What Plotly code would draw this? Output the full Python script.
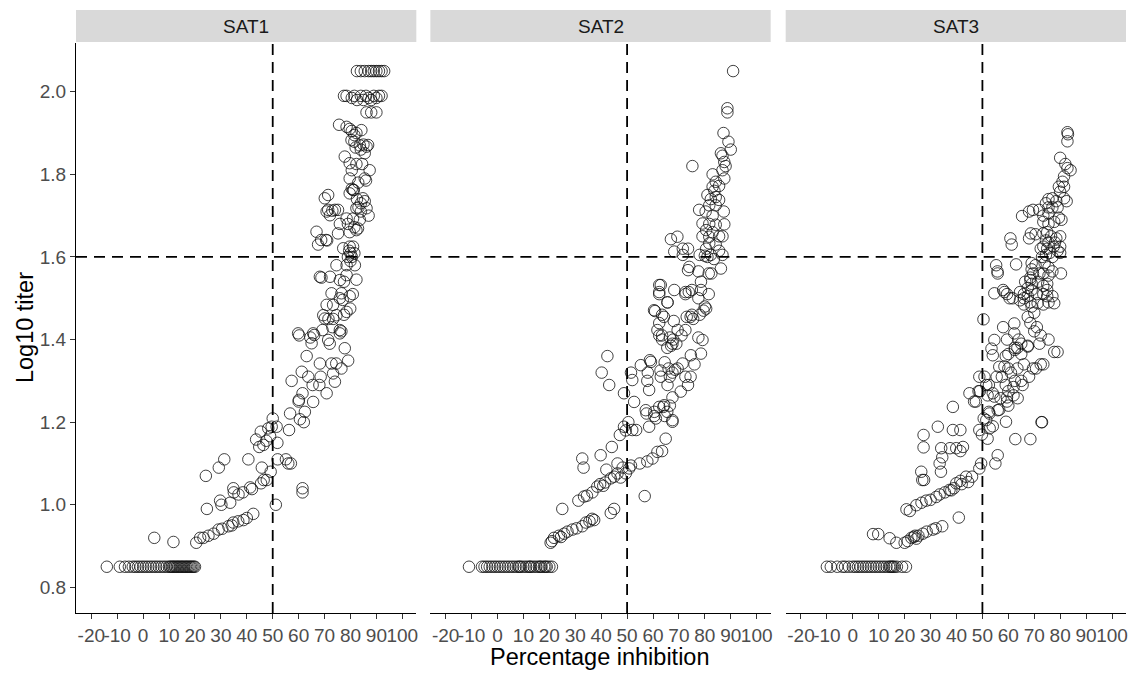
import plotly.graph_objects as go

# Percentage inhibition vs log10 titer, one panel per serotype
panels = ["SAT1", "SAT2", "SAT3"]
x_ticks = [-20, -10, 0, 10, 20, 30, 40, 50, 60, 70, 80, 90, 100]
y_ticks = [0.8, 1.0, 1.2, 1.4, 1.6, 1.8, 2.0]
pi_cutoff = 50
titer_cutoff = 1.6

sat1_baseline_pi = [-14, -9, -7, -5.5, -4, -3, -2, -1, 0, 1, 2, 3, 4, 5, 6, 7, 8, 9, 10,
                    10.5, 11, 11.5, 12, 12.5, 13, 13.5, 14, 14.5, 15, 15.5, 16, 16.5, 17,
                    17.5, 18, 18.5, 19, 19.5, 20]
sat1_points = [
    (4.3, 0.92), (11.7, 0.91),
    (20.5, 0.908), (22.0, 0.92), (23.3, 0.92), (25.2, 0.925), (27.2, 0.93), (29.1, 0.94),
    (30.5, 0.942), (32.9, 0.948), (34.2, 0.95), (34.8, 0.957), (36.7, 0.96), (38.7, 0.963),
    (40.0, 0.968), (42.5, 0.978),
    (24.6, 0.99), (24.2, 1.07), (29.2, 1.09), (31.3, 1.11), (29.7, 1.01), (30.2, 1.0),
    (33.6, 1.005), (34.8, 1.04), (35.0, 1.03), (36.8, 1.025), (38.5, 1.03), (41.3, 1.042),
    (42.0, 1.038), (40.6, 1.11),
    (45.5, 1.052), (46.5, 1.06), (47.7, 1.06), (49.2, 1.08), (45.8, 1.09),
    (43.6, 1.158), (44.8, 1.14), (45.4, 1.177), (46.4, 1.145), (47.5, 1.155), (49.0, 1.166),
    (49.6, 1.189), (50.0, 1.209), (51.5, 1.189), (51.8, 1.15), (48.3, 1.185),
    (51.2, 1.0), (51.9, 1.11), (55.1, 1.11), (56.0, 1.10), (57.0, 1.10), (61.5, 1.04), (61.5, 1.03),
    (56.3, 1.181), (56.7, 1.221), (57.3, 1.30), (60.1, 1.254), (60.5, 1.207), (61.5, 1.27),
    (61.2, 1.322), (62.4, 1.225), (63.1, 1.36), (63.7, 1.31), (65.4, 1.29), (65.6, 1.249),
    (65.0, 1.391), (66.0, 1.411), (68.2, 1.342), (68.5, 1.31), (68.0, 1.29), (70.8, 1.27),
    (71.4, 1.399), (72.0, 1.39), (72.7, 1.342), (73.3, 1.318), (74.0, 1.298), (74.5, 1.342),
    (76.5, 1.33), (77.8, 1.379), (79.1, 1.349), (75.9, 1.415), (60.2, 1.41), (64.5, 1.405),
    (62.0, 1.2), (60.0, 1.25),
    (82.5, 2.05), (84, 2.05), (85.5, 2.05), (87, 2.05), (88, 2.05), (89, 2.05), (90, 2.05),
    (91, 2.05), (92, 2.05), (93, 2.05),
    (77.5, 1.99), (78.5, 1.99), (80.5, 1.985), (81.5, 1.99), (82.5, 1.98), (84, 1.99),
    (85, 1.98), (86, 1.99), (87, 1.985), (88, 1.98), (89, 1.99), (90, 1.985), (91, 1.99), (92, 1.99),
    (86.2, 1.95), (88, 1.95), (90, 1.95),
    (75.6, 1.92), (78.5, 1.915), (79.7, 1.91), (80.5, 1.905), (82.3, 1.90), (84.2, 1.907), (81.5, 1.895),
    (80.4, 1.883), (81.5, 1.879), (83.6, 1.87), (85.0, 1.872), (86.8, 1.871), (82.0, 1.865),
    (85.5, 1.851), (86.2, 1.867), (84.0, 1.86),
    (77.8, 1.843), (79.7, 1.827), (82.3, 1.825), (84.5, 1.825), (87.4, 1.81), (80.5, 1.81),
    (79.7, 1.79), (85.5, 1.79), (83.0, 1.78), (86.0, 1.785),
    (81.0, 1.762), (80.5, 1.765), (79.7, 1.754), (81.3, 1.762),
    (70.1, 1.742), (71.4, 1.75), (84.8, 1.742), (85.5, 1.735), (82.5, 1.74), (84.0, 1.73),
    (83.1, 1.72), (86.2, 1.718), (82.3, 1.718), (84.0, 1.71),
    (71.4, 1.714), (73.0, 1.712), (74.0, 1.714), (75.2, 1.714), (72.1, 1.701), (70.8, 1.71),
    (78.5, 1.693), (81.0, 1.693), (83.6, 1.69), (79.0, 1.68), (82.9, 1.669), (81.5, 1.672),
    (75.9, 1.68), (79.7, 1.66), (82.3, 1.665), (87.0, 1.70),
    (66.9, 1.661), (68.7, 1.641), (70.6, 1.641), (67.5, 1.63), (71.0, 1.64), (75.2, 1.657),
    (77.2, 1.621), (79.7, 1.625), (81.0, 1.625), (80.0, 1.609), (81.5, 1.609), (79.0, 1.60),
    (80.5, 1.60), (80.0, 1.59), (81.7, 1.58), (78.5, 1.58), (74.6, 1.58), (79.5, 1.615),
    (68.2, 1.552), (68.8, 1.55), (72.1, 1.552), (75.9, 1.544), (78.5, 1.556), (82.3, 1.545), (77.5, 1.54),
    (72.7, 1.512), (76.5, 1.512), (80.9, 1.51), (75.9, 1.5), (79.7, 1.505), (77.0, 1.496),
    (70.8, 1.484), (73.3, 1.484), (79.9, 1.475), (78.5, 1.467), (77.5, 1.46),
    (74.6, 1.459), (69.5, 1.459), (71.5, 1.45), (70.1, 1.451), (73.3, 1.45),
    (69.2, 1.423), (75.9, 1.423), (73.0, 1.43), (65.6, 1.415), (59.8, 1.415), (76.5, 1.42),
]

sat2_baseline_pi = [-11, -6, -5, -4, -3, -2, -1, 0, 1, 2, 3, 4, 5, 6, 7, 8, 8.5, 9, 10, 11,
                    12, 12.5, 13, 14, 15, 16, 16.5, 17, 18, 18.5, 19, 20, 21]
sat2_points = [
    (20.5, 0.908), (21.0, 0.912), (21.8, 0.92), (23.7, 0.925), (24.5, 0.922), (25.7, 0.93),
    (27.0, 0.935), (28.9, 0.94), (30.5, 0.943), (32.7, 0.948), (34.1, 0.957), (35.5, 0.96),
    (37.3, 0.963), (36.5, 0.966),
    (25.0, 0.99), (31.2, 1.01), (33.4, 1.02), (34.5, 1.022), (36.6, 1.03), (38.5, 1.044),
    (39.6, 1.05), (40.8, 1.046), (41.5, 1.054), (43.7, 1.064), (45.0, 1.068), (46.3, 1.076),
    (47.5, 1.066), (49.5, 1.076),
    (43.7, 0.98), (45.0, 0.99), (56.8, 1.021),
    (32.7, 1.112), (33.2, 1.09), (39.8, 1.12), (44.1, 1.14), (46.3, 1.10), (48.3, 1.09),
    (50.8, 1.088), (42.0, 1.085), (51.5, 1.095),
    (47.2, 1.169), (48.8, 1.189), (49.5, 1.18), (52.0, 1.181), (53.5, 1.181), (50.5, 1.2),
    (54.9, 1.10), (57.8, 1.105), (59.8, 1.112), (61.7, 1.128), (63.5, 1.13), (64.9, 1.16),
    (48.8, 1.27), (52.0, 1.302), (51.5, 1.32), (52.7, 1.249),
    (58.5, 1.189), (61.1, 1.209), (57.5, 1.221), (57.2, 1.229), (62.4, 1.237), (64.0, 1.237),
    (65.5, 1.225), (66.5, 1.24), (67.5, 1.201), (64.5, 1.215), (60.5, 1.225),
    (55.3, 1.338), (58.0, 1.32), (59.2, 1.346), (58.5, 1.278), (62.9, 1.325), (64.5, 1.345),
    (65.6, 1.29), (66.5, 1.31), (67.5, 1.32), (69.5, 1.33), (71.4, 1.342), (72.5, 1.31),
    (73.5, 1.29), (74.5, 1.31), (70.7, 1.274), (67.5, 1.26), (74.6, 1.362), (76.0, 1.34),
    (78.5, 1.366), (79.1, 1.399), (63.5, 1.41), (67.5, 1.39), (65.5, 1.38), (71.0, 1.41),
    (42.4, 1.36), (40.2, 1.32), (43.1, 1.29),
    (62.4, 1.532), (62.4, 1.51), (65.6, 1.49), (68.2, 1.52), (72.5, 1.51), (75.0, 1.52),
    (78.5, 1.54), (81.5, 1.51), (82.5, 1.56), (86.2, 1.572), (77.5, 1.50),
    (60.4, 1.471), (64.2, 1.455), (61.7, 1.423), (62.4, 1.41), (63.5, 1.40), (66.5, 1.405),
    (67.8, 1.40), (69.0, 1.39), (67.0, 1.385), (69.5, 1.423), (72.5, 1.423), (74.5, 1.455),
    (75.5, 1.45), (79.5, 1.47), (80.5, 1.475), (77.5, 1.405),
    (58.8, 1.35), (57.8, 1.30), (63.0, 1.31), (66.0, 1.33), (68.5, 1.327), (60.5, 1.215),
    (64.3, 1.241), (67.5, 1.205),
    (90.9, 2.05), (88.7, 1.96), (88.7, 1.95), (87.2, 1.90), (89.1, 1.879), (90.0, 1.86),
    (86.2, 1.851), (86.8, 1.845), (87.5, 1.83), (88.0, 1.82), (86.8, 1.81), (87.5, 1.79),
    (83.0, 1.80), (84.2, 1.782), (85.5, 1.772), (83.0, 1.77), (83.7, 1.76), (81.0, 1.75),
    (84.2, 1.745), (82.3, 1.74), (85.5, 1.738), (81.7, 1.725), (84.2, 1.725), (87.3, 1.71),
    (77.8, 1.714), (80.3, 1.71), (83.0, 1.70), (79.1, 1.681), (81.7, 1.68), (84.2, 1.678),
    (87.5, 1.679), (80.5, 1.665), (83.0, 1.66), (81.7, 1.649), (85.5, 1.65), (86.8, 1.65),
    (79.1, 1.65), (81.7, 1.633), (84.2, 1.63), (80.5, 1.62), (85.5, 1.615), (82.3, 1.605),
    (81.0, 1.60), (78.0, 1.605), (80.0, 1.603), (86.8, 1.605), (83.5, 1.595),
    (75.2, 1.82), (66.9, 1.643), (69.4, 1.649), (68.2, 1.613), (71.5, 1.62), (73.5, 1.62),
    (71.5, 1.605), (74.0, 1.576), (73.5, 1.568), (77.5, 1.565), (81.5, 1.56),
    (63.0, 1.532), (62.4, 1.515), (72.5, 1.515), (73.8, 1.515), (78.5, 1.52), (65.6, 1.49),
    (60.8, 1.469), (63.5, 1.46), (62.4, 1.44), (68.0, 1.445), (73.0, 1.455), (75.0, 1.46),
    (78.0, 1.46), (80.0, 1.48),
]

sat3_baseline_pi = [-10, -8.5, -6, -4, -3, -1.5, 0, 1, 2, 3, 4, 5, 6, 7, 8, 9, 10, 11, 12,
                    13, 14, 14.5, 15, 15.5, 16, 17, 19, 20.5]
sat3_points = [
    (7.8, 0.929), (9.8, 0.929), (14.2, 0.919), (16.8, 0.908), (20.0, 0.908), (21.2, 0.912),
    (22.6, 0.92), (23.5, 0.922), (24.0, 0.925), (25.3, 0.925), (27.0, 0.93), (28.5, 0.935),
    (30.9, 0.94), (32.0, 0.943), (34.5, 0.948), (24.5, 0.918),
    (40.9, 0.969),
    (20.7, 0.989), (22.0, 0.985), (24.5, 0.999), (26.5, 1.005), (28.3, 1.01), (30.0, 1.012),
    (32.2, 1.019), (33.5, 1.025), (35.5, 1.03), (37.3, 1.036), (39.0, 1.04), (39.9, 1.052),
    (41.5, 1.058), (43.7, 1.068), (44.5, 1.055), (46.0, 1.068), (48.8, 1.088), (49.5, 1.10),
    (42.0, 1.05), (38.0, 1.035),
    (26.4, 1.08), (26.8, 1.06), (27.5, 1.06),
    (27.3, 1.139), (27.3, 1.169), (32.8, 1.189), (34.1, 1.137), (33.5, 1.10), (34.0, 1.08),
    (34.5, 1.115), (38.6, 1.181), (41.5, 1.181), (37.5, 1.137), (39.9, 1.137), (42.5, 1.14),
    (41.5, 1.13), (38.6, 1.237),
    (48.8, 1.181), (49.8, 1.17), (52.0, 1.16), (52.8, 1.185), (50.5, 1.209), (52.5, 1.225),
    (55.9, 1.229), (55.9, 1.12), (55.0, 1.10),
    (59.1, 1.201), (62.7, 1.159), (68.5, 1.159), (73.0, 1.2),
    (45.0, 1.27), (46.8, 1.25), (48.5, 1.275), (50.8, 1.31), (52.5, 1.29), (54.6, 1.262),
    (57.0, 1.258), (59.5, 1.25), (63.6, 1.258), (60.0, 1.275), (62.5, 1.30), (65.5, 1.29),
    (68.0, 1.31), (70.7, 1.33), (73.5, 1.34), (77.7, 1.37), (79.0, 1.37), (60.0, 1.33),
    (58.5, 1.335), (54.0, 1.362), (60.0, 1.365), (62.5, 1.38), (65.0, 1.365), (67.5, 1.385),
    (72.0, 1.39), (70.0, 1.42),
    (50.4, 1.449), (55.8, 1.565), (58.5, 1.515), (59.5, 1.51), (60.5, 1.50), (64.5, 1.515),
    (67.5, 1.525), (68.5, 1.55), (66.0, 1.50), (68.5, 1.49), (71.0, 1.51), (73.5, 1.51),
    (75.5, 1.49), (75.0, 1.535), (72.0, 1.56), (69.0, 1.57),
    (62.3, 1.439), (58.0, 1.43), (59.5, 1.40), (62.3, 1.415), (64.0, 1.40), (65.0, 1.39),
    (67.5, 1.383), (63.5, 1.38), (62.5, 1.375), (54.6, 1.399), (68.5, 1.44), (71.0, 1.43),
    (72.5, 1.41), (75.5, 1.40), (67.5, 1.455), (70.0, 1.465),
    (53.5, 1.378), (56.5, 1.334), (59.0, 1.36), (61.0, 1.32), (63.5, 1.33), (66.0, 1.34),
    (69.5, 1.33), (72.5, 1.34), (57.5, 1.31), (55.5, 1.31), (48.8, 1.31), (51.5, 1.29),
    (59.0, 1.29), (62.0, 1.285), (65.0, 1.30),
    (47.5, 1.25), (49.0, 1.275), (52.0, 1.265), (54.0, 1.27), (59.5, 1.26), (60.0, 1.24),
    (62.0, 1.265), (56.5, 1.23), (52.7, 1.221), (51.5, 1.205), (54.0, 1.19), (72.8, 1.2),
    (82.8, 1.902), (83.0, 1.897), (82.8, 1.88), (80.0, 1.84), (82.0, 1.825), (82.8, 1.815),
    (84.0, 1.81), (81.5, 1.795), (80.9, 1.782), (79.5, 1.77), (81.5, 1.77), (80.0, 1.758),
    (77.0, 1.742), (75.5, 1.74), (78.5, 1.735), (81.5, 1.742), (82.5, 1.735), (74.5, 1.73),
    (75.5, 1.72), (77.0, 1.72), (79.0, 1.72), (71.9, 1.714), (69.5, 1.714), (68.0, 1.71),
    (73.5, 1.70), (75.5, 1.705), (79.5, 1.695), (77.7, 1.685), (73.5, 1.685), (75.5, 1.68),
    (80.5, 1.69), (65.3, 1.699),
    (68.7, 1.657), (68.0, 1.645), (70.5, 1.655), (73.5, 1.657), (75.0, 1.66), (76.5, 1.65),
    (78.5, 1.645), (80.0, 1.65), (74.5, 1.64), (75.5, 1.635), (78.0, 1.635), (80.0, 1.625),
    (73.5, 1.625), (72.5, 1.62), (75.0, 1.62), (77.5, 1.625), (79.0, 1.615), (76.0, 1.61),
    (74.5, 1.605), (80.0, 1.61), (73.0, 1.60), (77.0, 1.60),
    (60.8, 1.645), (61.3, 1.63),
    (55.3, 1.58), (55.9, 1.56), (63.0, 1.582), (69.0, 1.585), (70.5, 1.58), (74.0, 1.585),
    (75.5, 1.575), (77.0, 1.565), (80.3, 1.56), (69.5, 1.56), (73.5, 1.56), (75.5, 1.555),
    (68.5, 1.544), (69.0, 1.535), (66.5, 1.54), (71.5, 1.54), (73.5, 1.53), (75.0, 1.52),
    (69.0, 1.52),
    (54.6, 1.512), (58.0, 1.52), (61.7, 1.50), (64.5, 1.495), (66.0, 1.51), (67.5, 1.505),
    (71.3, 1.488), (73.5, 1.485), (75.0, 1.505), (77.0, 1.505), (77.7, 1.488), (66.0, 1.485),
    (69.0, 1.48),
]

baseline_titer = 0.85

panel_data = {
    "SAT1": (sat1_baseline_pi, sat1_points),
    "SAT2": (sat2_baseline_pi, sat2_points),
    "SAT3": (sat3_baseline_pi, sat3_points),
}

FONT = "Liberation Sans, Arial, sans-serif"
TICK_COLOR = "#4d4d4d"
TICK_SIZE = 19
TITLE_SIZE = 23.5
x_range = [-25.9, 105.4]
y_range = [0.738, 2.118]
domains = [[0.0, 0.3241], [0.3375, 0.6616], [0.6759, 1.0]]

fig = go.Figure()

for i, name in enumerate(panels):
    base_pi, pts = panel_data[name]
    xs = list(base_pi) + [p[0] for p in pts]
    ys = [baseline_titer] * len(base_pi) + [p[1] for p in pts]
    suffix = "" if i == 0 else str(i + 1)
    fig.add_trace(go.Scatter(
        x=xs, y=ys, mode="markers", showlegend=False,
        xaxis="x" + suffix, yaxis="y" + suffix,
        marker=dict(symbol="circle-open", size=11.5, color="#111111",
                    line=dict(width=0.8)),
        hoverinfo="x+y",
    ))

    xa = dict(domain=domains[i], range=x_range, tickmode="array", tickvals=x_ticks,
              ticktext=[str(t) for t in x_ticks], tickangle=0, showgrid=False, zeroline=False,
              showline=True, linecolor="black", linewidth=1.1,
              ticks="outside", ticklen=5, tickwidth=1.1, tickcolor="#333333",
              tickfont=dict(family=FONT, size=TICK_SIZE, color=TICK_COLOR),
              anchor="y" + suffix, fixedrange=True)
    ya = dict(domain=[0, 1], range=y_range, showgrid=False, zeroline=False,
              anchor="x" + suffix, fixedrange=True)
    if i == 0:
        ya.update(tickmode="array", tickvals=y_ticks,
                  ticktext=["%.1f" % v for v in y_ticks],
                  showline=True, linecolor="black", linewidth=1.1,
                  ticks="outside", ticklen=5, tickwidth=1.1, tickcolor="#333333",
                  tickfont=dict(family=FONT, size=TICK_SIZE, color=TICK_COLOR))
    else:
        ya.update(showticklabels=False, showline=False, ticks="", matches="y")
    fig.layout["xaxis" + suffix] = xa
    fig.layout["yaxis" + suffix] = ya

    xref = "x" + suffix
    yref = "y" + suffix
    # facet strip
    fig.add_shape(type="rect", xref=xref + " domain", yref="paper",
                  x0=0, x1=1, y0=1.0018, y1=1.0579,
                  fillcolor="#d9d9d9", line=dict(width=0), layer="below")
    fig.add_annotation(text=name, xref=xref + " domain", yref="paper",
                       x=0.5, y=1.0298, showarrow=False, xanchor="center", yanchor="middle",
                       font=dict(family=FONT, size=TICK_SIZE, color="#1a1a1a"))
    # threshold lines
    fig.add_shape(type="line", xref=xref, yref=yref + " domain",
                  x0=pi_cutoff, x1=pi_cutoff, y0=0, y1=1,
                  line=dict(color="black", width=1.8, dash="11px,7px"))
    fig.add_shape(type="line", xref=xref + " domain", yref=yref,
                  x0=0, x1=1, y0=titer_cutoff, y1=titer_cutoff,
                  line=dict(color="black", width=1.8, dash="11px,7px"))

fig.add_annotation(text="Percentage inhibition", xref="paper", yref="paper",
                   x=0.499, y=-0.077, showarrow=False, xanchor="center", yanchor="middle",
                   font=dict(family=FONT, size=TITLE_SIZE, color="black"))
fig.add_annotation(text="Log10 titer", xref="paper", yref="paper",
                   x=-0.0485, y=0.5, textangle=-90, showarrow=False,
                   xanchor="center", yanchor="middle",
                   font=dict(family=FONT, size=TITLE_SIZE, color="black"))

fig.update_layout(
    width=1132, height=674,
    margin=dict(l=76, r=4, t=43, b=61),
    paper_bgcolor="white", plot_bgcolor="white",
    font=dict(family=FONT),
)

fig.write_html("out.html")
